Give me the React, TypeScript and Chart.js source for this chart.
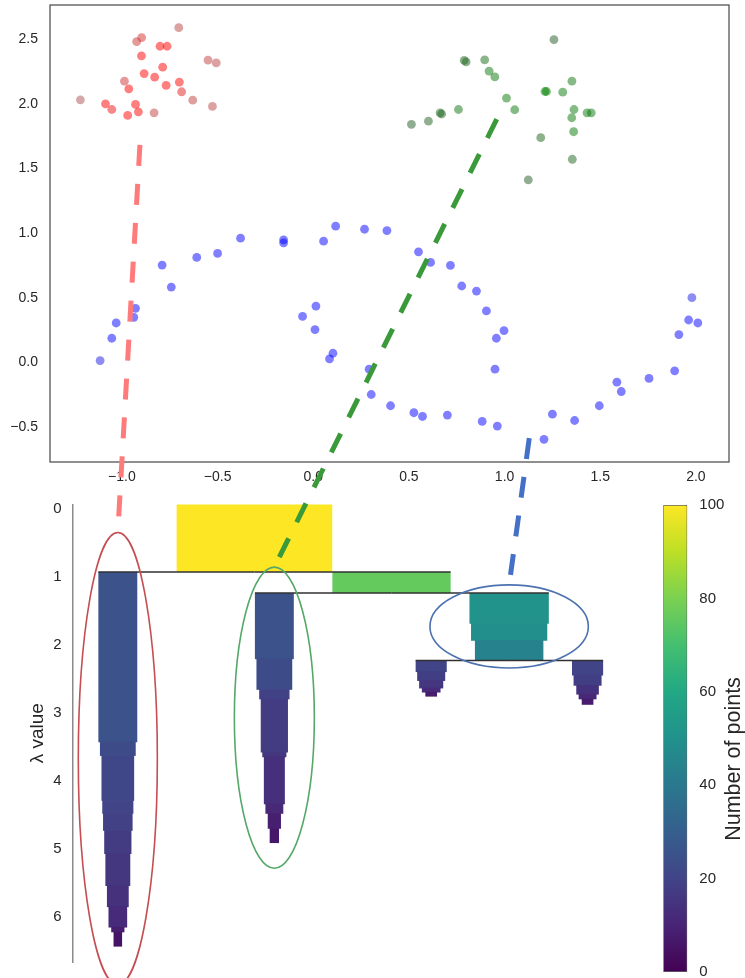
import React, { useEffect, useRef } from "react";
import { Chart, registerables } from "chart.js";

Chart.register(...registerables);

// ---------------- scatter data ----------------
const redX = [-1.217, -1.086, -1.053, -0.97, -0.929, -0.914, -0.832, -0.987, -0.964, -0.884, -0.829, -0.769, -0.7, -0.688, -0.63, -0.527, -0.787, -0.898, -0.923, -0.897, -0.801, -0.764, -0.703, -0.55, -0.507];
const redY = [2.032, 2.001, 1.957, 1.911, 1.996, 1.939, 1.931, 2.176, 2.117, 2.235, 2.207, 2.143, 2.168, 2.094, 2.029, 1.981, 2.284, 2.371, 2.482, 2.513, 2.446, 2.446, 2.59, 2.338, 2.317];
const redP = [0.35, 1, 0.85, 1, 1, 1, 0.5, 0.6, 1, 1, 1, 1, 1, 0.75, 0.5, 0.45, 1, 1, 0.6, 0.65, 1, 1, 0.45, 0.5, 0.45];

const greenX = [1.258, 0.789, 0.799, 0.896, 0.919, 0.949, 1.01, 1.053, 0.759, 0.663, 0.671, 0.602, 0.513, 1.211, 1.219, 1.304, 1.352, 1.363, 1.351, 1.431, 1.453, 1.361, 1.189, 1.354, 1.124];
const greenY = [2.497, 2.336, 2.325, 2.341, 2.253, 2.209, 2.045, 1.955, 1.957, 1.93, 1.922, 1.867, 1.842, 2.096, 2.096, 2.091, 2.176, 1.957, 1.893, 1.931, 1.931, 1.785, 1.739, 1.572, 1.412];
const greenP = [0.45, 0.55, 0.55, 0.7, 0.85, 0.85, 0.9, 0.85, 0.8, 0.6, 0.6, 0.5, 0.45, 1, 1, 0.9, 0.8, 0.9, 0.9, 0.9, 0.85, 0.9, 0.6, 0.55, 0.45];

const blueX = [-1.114, -1.053, -1.03, -0.938, -0.929, -0.742, -0.79, -0.609, -0.5, -0.38, -0.155, -0.155, 0.054, 0.117, 0.268, 0.385, 0.014, -0.056, 0.009, 0.103, 0.085, 0.55, 0.613, 0.717, 0.776, 0.853, 0.905, 0.997, 0.957, 0.95, 0.292, 0.303, 0.404, 0.526, 0.571, 0.701, 0.883, 0.962, 1.206, 1.25, 1.366, 1.495, 1.587, 1.61, 1.755, 1.889, 1.911, 1.962, 2.01, 1.979];
const blueY = [0.015, 0.188, 0.306, 0.35, 0.419, 0.584, 0.754, 0.813, 0.844, 0.962, 0.949, 0.926, 0.939, 1.055, 1.031, 1.021, 0.437, 0.357, 0.255, 0.072, 0.028, 0.856, 0.774, 0.751, 0.592, 0.553, 0.399, 0.247, 0.188, -0.051, -0.051, -0.247, -0.334, -0.388, -0.417, -0.406, -0.455, -0.491, -0.594, -0.399, -0.448, -0.334, -0.152, -0.224, -0.123, -0.064, 0.216, 0.329, 0.306, 0.502];
const blueP = [0.8, 1, 1, 1, 1, 1, 1, 1, 1, 1, 1, 1, 1, 1, 1, 1, 1, 1, 1, 1, 1, 1, 1, 1, 1, 1, 1, 1, 1, 1, 1, 1, 1, 1, 1, 1, 1, 1, 1, 1, 1, 1, 1, 1, 1, 1, 1, 1, 1, 0.8];

const xTicks = [-1, -0.5, 0, 0.5, 1, 1.5, 2];
const yTicks = [-0.5, 0, 0.5, 1, 1.5, 2, 2.5];

// ---------------- condensed tree data ----------------
// node order: root, red cluster, right split, green cluster, blue cluster, blue left leaf, blue right leaf
const nodeCenter = [116.8, 29.0, 204.9, 129.6, 280.5, 230.4, 330.9];
const nodeParent = [-1, 0, 0, 2, 2, 4, 4];
const nodeLambda = [
  [-0.06, 0.93],
  [0.93, 3.42, 3.62, 4.28, 4.47, 4.72, 5.06, 5.53, 5.84, 6.14, 6.21, 6.43],
  [0.93, 1.24],
  [1.24, 2.2, 2.65, 2.79, 3.57, 3.64, 4.33, 4.47, 4.69, 4.91],
  [1.24, 1.68, 1.93, 2.23],
  [2.23, 2.39, 2.52, 2.63, 2.69, 2.76],
  [2.23, 2.44, 2.59, 2.72, 2.79, 2.88],
];
const nodeSize = [
  [100],
  [25, 23, 21, 20, 19, 17.5, 16, 14, 12, 8.5, 5.5],
  [76],
  [25, 23, 19.5, 17.5, 15.5, 13.5, 11.5, 8.5, 6],
  [51, 49, 44],
  [20, 18, 15.5, 12, 7.5],
  [20, 18, 14.5, 11.5, 7.5],
];
const lambdaTicks = [0, 1, 2, 3, 4, 5, 6];
const colorbarTicks = [0, 20, 40, 60, 80, 100];
const sizeMax = 100;

// selected clusters (ellipses): red, green, blue
const ellipseCx = [29.0, 129.6, 280.5];
const ellipseCy = [3.67, 3.07, 1.73];
const ellipseRx = [25.4, 25.7, 50.9];
const ellipseRy = [3.32, 2.21, 0.61];
const ellipseColor = ["#c44e52", "#55a868", "#4c72b0"];

// dashed links from the scatter (data coords) to the top of each ellipse
const linkFromX = [-0.906, 0.959, 1.129];
const linkFromY = [1.683, 1.882, -0.585];
const linkColor = ["#ff7b7b", "#3a9a3a", "#4470c8"];

// ---------------- styling helpers ----------------
const FONT = "'Liberation Sans', Arial, sans-serif";
const TEXT = "#262626";
const VIRIDIS = ["#440154", "#482475", "#414487", "#355f8d", "#2a788e", "#21918c", "#22a884", "#44bf70", "#7ad151", "#bddf26", "#fde725"];

function hexToRgb(h: string) {
  return [parseInt(h.slice(1, 3), 16), parseInt(h.slice(3, 5), 16), parseInt(h.slice(5, 7), 16)];
}
function viridis(t: number) {
  const tt = Math.max(0, Math.min(1, t)) * (VIRIDIS.length - 1);
  const i = Math.min(VIRIDIS.length - 2, Math.floor(tt));
  const f = tt - i;
  const a = hexToRgb(VIRIDIS[i]);
  const b = hexToRgb(VIRIDIS[i + 1]);
  const c = a.map((v, k) => Math.round(v + (b[k] - v) * f));
  return `rgb(${c[0]},${c[1]},${c[2]})`;
}
function desat(rgb: number[], p: number, alpha: number) {
  const l = (Math.max(...rgb) + Math.min(...rgb)) / 2;
  const c = rgb.map((v) => Math.round((l + (v - l) * p) * 255));
  return `rgba(${c[0]},${c[1]},${c[2]},${alpha})`;
}
function fmt(v: number) {
  const s = Math.abs(v).toFixed(1);
  return v < -1e-9 ? "\u2212" + s : s;
}
function noPad(s: any) {
  s.paddingTop = 0;
  s.paddingBottom = 0;
  s.paddingLeft = 0;
  s.paddingRight = 0;
}

const SC = { left: 0, top: 0, w: 745, h: 490 };
const TR = { left: 0, top: 490, w: 650, h: 488 };
const CB = { left: 650, top: 490, w: 95, h: 488 };

const framePlugin = {
  id: "frame",
  beforeDatasetsDraw(chart: any) {
    const { ctx, chartArea: a } = chart;
    ctx.save();
    ctx.strokeStyle = "#4d4d4d";
    ctx.lineWidth = 1.25;
    ctx.strokeRect(a.left, a.top, a.right - a.left, a.bottom - a.top);
    ctx.restore();
  },
};

const treePlugin = {
  id: "condensedTree",
  afterDatasetsDraw(chart: any) {
    const { ctx } = chart;
    const x = chart.scales.x;
    const y = chart.scales.y;
    ctx.save();
    // icicle bars
    nodeCenter.forEach((c, i) => {
      const lams = nodeLambda[i];
      const sizes = nodeSize[i];
      sizes.forEach((s, j) => {
        const x0 = x.getPixelForValue(c - s / 2);
        const x1 = x.getPixelForValue(c + s / 2);
        const y0 = y.getPixelForValue(lams[j]);
        const y1 = y.getPixelForValue(lams[j + 1]);
        ctx.fillStyle = viridis(s / sizeMax);
        ctx.fillRect(x0, y0, x1 - x0, y1 - y0 + (j < sizes.length - 1 ? 0.7 : 0));
      });
    });
    // split lines
    ctx.strokeStyle = "#303030";
    ctx.lineWidth = 1.4;
    nodeCenter.forEach((c, i) => {
      const p = nodeParent[i];
      if (p < 0) return;
      const sign = Math.sign(c - nodeCenter[p]);
      const yy = y.getPixelForValue(nodeLambda[i][0]);
      ctx.beginPath();
      ctx.moveTo(x.getPixelForValue(nodeCenter[p]), yy);
      ctx.lineTo(x.getPixelForValue(c + (sign * nodeSize[i][0]) / 2), yy);
      ctx.stroke();
    });
    // selection ellipses
    ctx.lineWidth = 1.6;
    ellipseCx.forEach((cx, k) => {
      const px = x.getPixelForValue(cx);
      const py = y.getPixelForValue(ellipseCy[k]);
      const rx = Math.abs(x.getPixelForValue(cx + ellipseRx[k]) - px);
      const ry = Math.abs(y.getPixelForValue(ellipseCy[k] + ellipseRy[k]) - py);
      ctx.strokeStyle = ellipseColor[k];
      ctx.beginPath();
      ctx.ellipse(px, py, rx, ry, 0, 0, Math.PI * 2);
      ctx.stroke();
    });
    ctx.restore();
  },
};

const cbTitlePlugin = {
  id: "cbTitle",
  afterDraw(chart: any) {
    const { ctx } = chart;
    const ys = chart.scales.y;
    ctx.save();
    ctx.translate(ys.right - 11, 269);
    ctx.rotate(-Math.PI / 2);
    ctx.font = `21.5px ${FONT}`;
    ctx.fillStyle = TEXT;
    ctx.textAlign = "center";
    ctx.textBaseline = "middle";
    ctx.fillText("Number of points", 0, 0);
    ctx.restore();
  },
};

export default function App() {
  const scRef = useRef<HTMLCanvasElement>(null);
  const trRef = useRef<HTMLCanvasElement>(null);
  const cbRef = useRef<HTMLCanvasElement>(null);
  const ovRef = useRef<HTMLCanvasElement>(null);

  useEffect(() => {
    const mk = (xs: number[], ys: number[]) => xs.map((v, i) => ({ x: v, y: ys[i] }));
    const pointDs = (xs: number[], ys: number[], ps: number[], rgb: number[]) => ({
      data: mk(xs, ys),
      pointBackgroundColor: ps.map((p) => desat(rgb, p, 0.5)),
      pointBorderWidth: 0,
      pointRadius: 4.4,
      pointHoverRadius: 4.4,
    });

    const scatter = new Chart(scRef.current as HTMLCanvasElement, {
      type: "scatter",
      data: {
        datasets: [
          pointDs(redX, redY, redP, [1, 0, 0]),
          pointDs(greenX, greenY, greenP, [0, 0.5, 0]),
          pointDs(blueX, blueY, blueP, [0, 0, 1]),
        ],
      },
      options: {
        animation: false,
        responsive: false,
        events: [],
        layout: { padding: { top: 5, right: 16, left: 0, bottom: 0 } },
        plugins: { legend: { display: false }, tooltip: { enabled: false } },
        scales: {
          x: {
            type: "linear",
            min: -1.376,
            max: 2.173,
            grid: { display: false, drawTicks: false },
            border: { display: false },
            afterFit: (s: any) => { s.height = 28; noPad(s); },
            afterBuildTicks: (s: any) => { s.ticks = xTicks.map((v) => ({ value: v })); },
            ticks: { padding: 7, color: TEXT, font: { family: FONT, size: 14 }, autoSkip: false, maxRotation: 0, callback: (v: any) => fmt(Number(v)) },
          },
          y: {
            type: "linear",
            min: -0.769,
            max: 2.765,
            grid: { display: false, drawTicks: false },
            border: { display: false },
            afterFit: (s: any) => { s.width = 50; noPad(s); },
            afterBuildTicks: (s: any) => { s.ticks = yTicks.map((v) => ({ value: v })); },
            ticks: { padding: 12, color: TEXT, font: { family: FONT, size: 14 }, autoSkip: false, callback: (v: any) => fmt(Number(v)) },
          },
        },
      } as any,
      plugins: [framePlugin],
    });

    const tree = new Chart(trRef.current as HTMLCanvasElement, {
      type: "scatter",
      data: { datasets: [] },
      options: {
        animation: false,
        responsive: false,
        events: [],
        layout: { padding: { top: 14.5, right: 10, left: 0, bottom: 16 } },
        plugins: { legend: { display: false }, tooltip: { enabled: false } },
        scales: {
          x: { type: "linear", min: 0, max: 364.6, display: false },
          y: {
            type: "linear",
            reverse: true,
            min: -0.06,
            max: 6.656,
            grid: { display: false, drawTicks: false },
            border: { display: true, color: "#8a8a8a", width: 1.5 },
            afterFit: (s: any) => { s.width = 72.7; noPad(s); },
            afterBuildTicks: (s: any) => { s.ticks = lambdaTicks.map((v) => ({ value: v })); },
            ticks: { padding: 11, color: TEXT, font: { family: FONT, size: 15 }, autoSkip: false, callback: (v: any) => String(v) },
            title: { display: true, text: "\u03bb value", color: TEXT, font: { family: FONT, size: 19 }, padding: { top: 26.6, bottom: 0 } },
          },
        },
      } as any,
      plugins: [treePlugin],
    });

    const cbar = new Chart(cbRef.current as HTMLCanvasElement, {
      type: "bar",
      data: {
        labels: [""],
        datasets: [
          {
            data: [[0, sizeMax]],
            backgroundColor: (c: any) => {
              const ch = c.chart;
              if (!ch.chartArea) return VIRIDIS[5];
              const ys = ch.scales.y;
              const g = ch.ctx.createLinearGradient(0, ys.getPixelForValue(0), 0, ys.getPixelForValue(sizeMax));
              VIRIDIS.forEach((col, i) => g.addColorStop(i / (VIRIDIS.length - 1), col));
              return g;
            },
            borderColor: "#666666",
            borderWidth: 1,
            borderSkipped: false,
            barPercentage: 1,
            categoryPercentage: 1,
          } as any,
        ],
      },
      options: {
        animation: false,
        responsive: false,
        events: [],
        layout: { padding: { top: 15, right: 0, left: 13.3, bottom: 6 } },
        plugins: { legend: { display: false }, tooltip: { enabled: false } },
        scales: {
          x: { display: false },
          y: {
            position: "right",
            min: 0,
            max: sizeMax,
            grid: { display: false, drawTicks: false },
            border: { display: false },
            afterFit: (s: any) => { s.width = 57.7; noPad(s); },
            afterBuildTicks: (s: any) => { s.ticks = colorbarTicks.map((v) => ({ value: v })); },
            ticks: { padding: 12, color: TEXT, font: { family: FONT, size: 15 }, autoSkip: false, callback: (v: any) => String(v) },
          },
        },
      } as any,
      plugins: [cbTitlePlugin],
    });

    // dashed connectors, drawn over everything
    const ov = ovRef.current as HTMLCanvasElement;
    const dpr = window.devicePixelRatio || 1;
    ov.width = 745 * dpr;
    ov.height = 978 * dpr;
    const ctx = ov.getContext("2d") as CanvasRenderingContext2D;
    ctx.setTransform(dpr, 0, 0, dpr, 0, 0);
    ctx.clearRect(0, 0, 745, 978);
    linkFromX.forEach((lx, k) => {
      const x1 = scatter.scales.x.getPixelForValue(lx) + SC.left;
      const y1 = scatter.scales.y.getPixelForValue(linkFromY[k]) + SC.top;
      const x2 = tree.scales.x.getPixelForValue(ellipseCx[k]) + TR.left;
      const y2 = tree.scales.y.getPixelForValue(ellipseCy[k] - ellipseRy[k]) + TR.top;
      ctx.save();
      ctx.strokeStyle = linkColor[k];
      ctx.lineWidth = 5;
      ctx.lineCap = "butt";
      ctx.setLineDash([21, 18]);
      ctx.beginPath();
      ctx.moveTo(x1, y1);
      ctx.lineTo(x2, y2);
      ctx.stroke();
      ctx.restore();
    });

    return () => {
      scatter.destroy();
      tree.destroy();
      cbar.destroy();
    };
  }, []);

  const pos = (r: { left: number; top: number; w: number; h: number }): React.CSSProperties => ({
    position: "absolute",
    left: r.left,
    top: r.top,
    width: r.w,
    height: r.h,
    display: "block",
  });

  return (
    <div style={{ position: "absolute", left: 0, top: 0, width: 745, height: 978, background: "#ffffff", overflow: "hidden" }}>
      <canvas ref={scRef} width={SC.w} height={SC.h} style={pos(SC)} />
      <canvas ref={trRef} width={TR.w} height={TR.h} style={pos(TR)} />
      <canvas ref={cbRef} width={CB.w} height={CB.h} style={pos(CB)} />
      <canvas ref={ovRef} style={{ ...pos({ left: 0, top: 0, w: 745, h: 978 }), pointerEvents: "none" }} />
    </div>
  );
}
